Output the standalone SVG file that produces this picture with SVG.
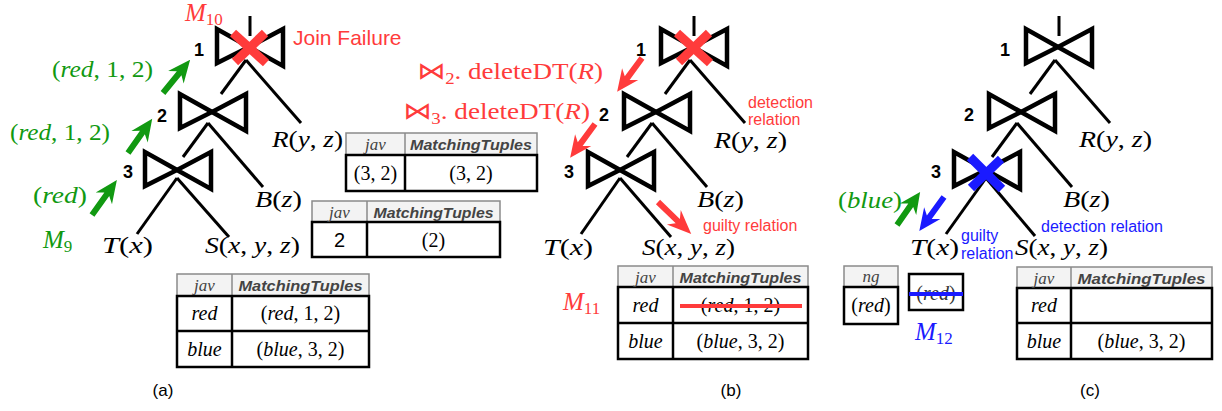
<svg xmlns="http://www.w3.org/2000/svg" xmlns:xlink="http://www.w3.org/1999/xlink" width="1222" height="411" viewBox="0 0 1222 411">
<style>
.ln{stroke:#000;stroke-width:3;fill:none}
.bt{stroke:#000;stroke-width:4.5;fill:none;stroke-linejoin:miter}
.m{font-family:"Liberation Serif","Times New Roman",serif;font-size:23px}
.i{font-style:italic}
.num{font-family:"Liberation Sans",Arial,sans-serif;font-weight:bold;font-size:18px;text-anchor:middle}
.ann{font-family:"Liberation Sans",Arial,sans-serif;font-size:16px}
.big{font-size:21px}
.th{fill:#f3f3f3;stroke:#8a8a8a;stroke-width:1.5}
.tb{fill:#fff;stroke:#000;stroke-width:2.5}
.dv{stroke:#000;stroke-width:2.5}
.dh{stroke:#8a8a8a;stroke-width:1.5}
.hj{font-family:"Liberation Serif",serif;font-style:italic;font-size:17px;fill:#444;text-anchor:middle}
.hm{font-family:"Liberation Sans",Arial,sans-serif;font-style:italic;font-weight:bold;font-size:15px;fill:#444;text-anchor:middle}
.td{font-family:"Liberation Serif",serif;font-size:20px;text-anchor:middle}
.tds{font-family:"Liberation Sans",Arial,sans-serif;font-size:20px;text-anchor:middle}
.red{fill:#ff3b3b}
.grn{fill:#119911}
.blu{fill:#1a1aff}
.xr{stroke:#ff3b3b;stroke-width:9}
.xb{stroke:#1a1aff;stroke-width:9}
.cap{font-family:"Liberation Sans",Arial,sans-serif;font-size:17px;text-anchor:middle}
.bt2{font-family:"DejaVu Sans",sans-serif;font-size:24px}
</style>
<defs>
<g id="bow" class="bt"><polygon points="-32,-18 -32,16 0,0"/><polygon points="34,-18 34,19 0,0"/></g>
<path id="arr" d="M0,-3 L25,-3 L20,-10 L42,0 L20,10 L25,3 L0,3 Z"/>
</defs>

<!-- connectors -->
<g id="connectors" class="ln">
<line x1="250" y1="16" x2="250" y2="36"/>
<line x1="246" y1="60" x2="221" y2="94"/>
<line x1="246" y1="60" x2="301" y2="123"/>
<line x1="208" y1="123" x2="183" y2="157"/>
<line x1="208" y1="123" x2="263" y2="187"/>
<line x1="177" y1="178" x2="137" y2="234"/>
<line x1="177" y1="178" x2="229" y2="237"/>

<line x1="694" y1="16" x2="694" y2="36"/>
<line x1="690" y1="60" x2="665" y2="94"/>
<line x1="690" y1="60" x2="745" y2="123"/>
<line x1="652" y1="123" x2="627" y2="157"/>
<line x1="652" y1="123" x2="707" y2="187"/>
<line x1="620" y1="178" x2="581" y2="234"/>
<line x1="620" y1="178" x2="671" y2="237"/>

<line x1="1059" y1="16" x2="1059" y2="36"/>
<line x1="1055" y1="60" x2="1030" y2="94"/>
<line x1="1055" y1="60" x2="1110" y2="123"/>
<line x1="1017" y1="123" x2="992" y2="157"/>
<line x1="1017" y1="123" x2="1072" y2="187"/>
<line x1="986" y1="178" x2="946" y2="234"/>
<line x1="986" y1="178" x2="1035" y2="236"/>
</g>

<!-- panel (a) join nodes -->
<g id="a-j1"><use xlink:href="#bow" x="249" y="47"/><text class="num" x="199" y="56">1</text></g>
<g id="a-j2"><use xlink:href="#bow" x="212" y="112"/><text class="num" x="162" y="122">2</text></g>
<g id="a-j3"><use xlink:href="#bow" x="177" y="170"/><text class="num" x="128" y="178">3</text></g>
<g id="a-fail">
<line class="xr" x1="233" y1="33" x2="266" y2="63"/><line class="xr" x1="265" y1="33" x2="235" y2="62"/>
<text class="ann big red" x="293" y="45">Join Failure</text>
<text class="m red" x="185" y="21"><tspan class="i" font-size="25">M</tspan><tspan font-size="17" dy="4">10</tspan></text>
</g>
<g id="a-R"><text class="m" x="272" y="147" textLength="71" lengthAdjust="spacingAndGlyphs"><tspan class="i">R</tspan>(<tspan class="i">y</tspan>, <tspan class="i">z</tspan>)</text></g>
<g id="a-B"><text class="m" x="255" y="207" textLength="47" lengthAdjust="spacingAndGlyphs"><tspan class="i">B</tspan>(<tspan class="i">z</tspan>)</text></g>
<g id="a-T"><text class="m" x="102" y="253" textLength="51" lengthAdjust="spacingAndGlyphs"><tspan class="i">T</tspan>(<tspan class="i">x</tspan>)</text></g>
<g id="a-S"><text class="m" x="205" y="253" textLength="95" lengthAdjust="spacingAndGlyphs"><tspan class="i">S</tspan>(<tspan class="i">x</tspan>, <tspan class="i">y</tspan>, <tspan class="i">z</tspan>)</text></g>
<g id="a-msgs" class="grn">
<use xlink:href="#arr" transform="translate(163,93) rotate(-50.7) scale(1.02,1)"/>
<use xlink:href="#arr" transform="translate(128,153) rotate(-54.8)"/>
<use xlink:href="#arr" transform="translate(92,215) rotate(-54.5) scale(1.02,1)"/>
<text class="m grn" x="52" y="77" textLength="101" lengthAdjust="spacingAndGlyphs">(<tspan class="i">red</tspan>, 1, 2)</text>
<text class="m grn" x="10" y="140" textLength="100" lengthAdjust="spacingAndGlyphs">(<tspan class="i">red</tspan>, 1, 2)</text>
<text class="m grn" x="33" y="203" textLength="54" lengthAdjust="spacingAndGlyphs">(<tspan class="i">red</tspan>)</text>
<text class="m grn" x="43" y="248"><tspan class="i" font-size="25">M</tspan><tspan font-size="17" dy="4">9</tspan></text>
</g>

<!-- panel (a) tables -->
<g id="a-tab1">
<rect class="th" x="346" y="133" width="191" height="22"/><line class="dh" x1="405" y1="133" x2="405" y2="155"/>
<rect class="tb" x="346" y="155" width="191" height="36"/><line class="dv" x1="405" y1="155" x2="405" y2="191"/>
<text class="hj" x="375.5" y="150">jav</text><text class="hm" x="471" y="150" textLength="122" lengthAdjust="spacingAndGlyphs">MatchingTuples</text>
<text class="td" x="375.5" y="180">(3, 2)</text><text class="td" x="471" y="180">(3, 2)</text>
</g>
<g id="a-tab2">
<rect class="th" x="312" y="201" width="188" height="21"/><line class="dh" x1="367" y1="201" x2="367" y2="222"/>
<rect class="tb" x="312" y="222" width="188" height="35"/><line class="dv" x1="367" y1="222" x2="367" y2="257"/>
<text class="hj" x="339.5" y="218">jav</text><text class="hm" x="433.5" y="218" textLength="120" lengthAdjust="spacingAndGlyphs">MatchingTuples</text>
<text class="tds" x="339.5" y="247">2</text><text class="td" x="433.5" y="247">(2)</text>
</g>
<g id="a-tab3">
<rect class="th" x="177" y="274" width="192" height="22"/><line class="dh" x1="232" y1="274" x2="232" y2="296"/>
<rect class="tb" x="177" y="296" width="192" height="71"/><line class="dv" x1="232" y1="296" x2="232" y2="367"/><line class="dv" x1="177" y1="331" x2="369" y2="331"/>
<text class="hj" x="204.5" y="291">jav</text><text class="hm" x="300.5" y="291" textLength="124" lengthAdjust="spacingAndGlyphs">MatchingTuples</text>
<text class="td i" x="204.5" y="320">red</text><text class="td" x="300.5" y="320">(<tspan class="i">red</tspan>, 1, 2)</text>
<text class="td i" x="204.5" y="356">blue</text><text class="td" x="300.5" y="356">(<tspan class="i">blue</tspan>, 3, 2)</text>
</g>
<text class="cap" x="163" y="396">(a)</text>

<!-- panel (b) -->
<g id="b-j1"><use xlink:href="#bow" x="693" y="47"/><text class="num" x="641" y="56">1</text></g>
<g id="b-j2"><use xlink:href="#bow" x="656" y="112"/><text class="num" x="604" y="121">2</text></g>
<g id="b-j3"><use xlink:href="#bow" x="620" y="170"/><text class="num" x="569" y="178">3</text></g>
<g id="b-fail"><line class="xr" x1="677" y1="33" x2="710" y2="63"/><line class="xr" x1="709" y1="33" x2="679" y2="62"/></g>
<g id="b-R"><text class="m" x="714" y="148" textLength="73" lengthAdjust="spacingAndGlyphs"><tspan class="i">R</tspan>(<tspan class="i">y</tspan>, <tspan class="i">z</tspan>)</text></g>
<g id="b-B"><text class="m" x="697" y="207" textLength="47" lengthAdjust="spacingAndGlyphs"><tspan class="i">B</tspan>(<tspan class="i">z</tspan>)</text></g>
<g id="b-T"><text class="m" x="543" y="255" textLength="50" lengthAdjust="spacingAndGlyphs"><tspan class="i">T</tspan>(<tspan class="i">x</tspan>)</text></g>
<g id="b-S"><text class="m" x="642" y="255" textLength="93" lengthAdjust="spacingAndGlyphs"><tspan class="i">S</tspan>(<tspan class="i">x</tspan>, <tspan class="i">y</tspan>, <tspan class="i">z</tspan>)</text></g>
<g id="b-msgs" class="red">
<use xlink:href="#arr" transform="translate(642,58) rotate(126.3)"/>
<use xlink:href="#arr" transform="translate(595,124) rotate(126.3)"/>
<use xlink:href="#arr" transform="translate(658,202) rotate(44) scale(1.1,1)"/>
<text class="m red" x="417" y="79" textLength="186" lengthAdjust="spacingAndGlyphs"><tspan class="bt2">⋈</tspan><tspan font-size="16" dy="5">2</tspan><tspan dy="-5">. deleteDT(</tspan><tspan class="i">R</tspan>)</text>
<text class="m red" x="403" y="119" textLength="187" lengthAdjust="spacingAndGlyphs"><tspan class="bt2">⋈</tspan><tspan font-size="16" dy="5">3</tspan><tspan dy="-5">. deleteDT(</tspan><tspan class="i">R</tspan>)</text>
<text class="ann red" x="748" y="108">detection</text>
<text class="ann red" x="748" y="125">relation</text>
<text class="ann red" x="703" y="231">guilty relation</text>
<text class="m red" x="563" y="310"><tspan class="i" font-size="25">M</tspan><tspan font-size="17" dy="4">11</tspan></text>
</g>
<g id="b-tab">
<rect class="th" x="618" y="266" width="190" height="21"/><line class="dh" x1="673" y1="266" x2="673" y2="287"/>
<rect class="tb" x="618" y="287" width="190" height="72"/><line class="dv" x1="673" y1="287" x2="673" y2="359"/><line class="dv" x1="618" y1="323" x2="808" y2="323"/>
<text class="hj" x="645.5" y="283">jav</text><text class="hm" x="740.5" y="283" textLength="122" lengthAdjust="spacingAndGlyphs">MatchingTuples</text>
<text class="td i" x="645.5" y="312">red</text><text class="td" x="740.5" y="312">(<tspan class="i">red</tspan>, 1, 2)</text>
<text class="td i" x="645.5" y="348">blue</text><text class="td" x="740.5" y="348">(<tspan class="i">blue</tspan>, 3, 2)</text>
<line stroke="#ff3b3b" stroke-width="4" x1="680" y1="306" x2="802" y2="306"/>
</g>
<text class="cap" x="731" y="396">(b)</text>

<!-- panel (c) -->
<g id="c-j1"><use xlink:href="#bow" x="1058" y="47"/><text class="num" x="1005" y="56">1</text></g>
<g id="c-j2"><use xlink:href="#bow" x="1021" y="112"/><text class="num" x="969" y="121">2</text></g>
<g id="c-j3"><use xlink:href="#bow" x="986" y="170"/><text class="num" x="936" y="178">3</text></g>
<g id="c-fail"><line class="xb" x1="970" y1="157" x2="1002" y2="189"/><line class="xb" x1="1001" y1="159" x2="971" y2="188"/></g>
<g id="c-R"><text class="m" x="1079" y="147" textLength="73" lengthAdjust="spacingAndGlyphs"><tspan class="i">R</tspan>(<tspan class="i">y</tspan>, <tspan class="i">z</tspan>)</text></g>
<g id="c-B"><text class="m" x="1063" y="207" textLength="47" lengthAdjust="spacingAndGlyphs"><tspan class="i">B</tspan>(<tspan class="i">z</tspan>)</text></g>
<g id="c-T"><text class="m" x="910" y="255" textLength="49" lengthAdjust="spacingAndGlyphs"><tspan class="i">T</tspan>(<tspan class="i">x</tspan>)</text></g>
<g id="c-S"><text class="m" x="1015" y="255" textLength="93" lengthAdjust="spacingAndGlyphs"><tspan class="i">S</tspan>(<tspan class="i">x</tspan>, <tspan class="i">y</tspan>, <tspan class="i">z</tspan>)</text></g>
<g id="c-msgs">
<use class="grn" xlink:href="#arr" transform="translate(897,225) rotate(-55) scale(0.96,1)"/>
<use class="blu" xlink:href="#arr" transform="translate(944,197) rotate(126)"/>
<text class="m grn" x="838" y="208" textLength="64" lengthAdjust="spacingAndGlyphs">(<tspan class="i">blue</tspan>)</text>
<text class="ann blu" x="961" y="241">guilty</text>
<text class="ann blu" x="961" y="259">relation</text>
<text class="ann blu" x="1041" y="232">detection relation</text>
<text class="m blu" x="915" y="340"><tspan class="i" font-size="25">M</tspan><tspan font-size="17" dy="4">12</tspan></text>
</g>
<g id="c-ng">
<rect class="th" x="844" y="266" width="54" height="21"/>
<rect class="tb" x="844" y="287" width="54" height="37"/>
<text class="hj" x="871" y="282">ng</text>
<text class="td" x="871" y="312">(<tspan class="i">red</tspan>)</text>
</g>
<g id="c-box">
<rect class="tb" x="909" y="274" width="54" height="36" stroke-width="2"/>
<text class="td" x="936" y="300" fill="#333">(<tspan class="i">red</tspan>)</text>
<line stroke="#1a1aff" stroke-width="4" x1="909" y1="294" x2="963" y2="294"/>
</g>
<g id="c-tab">
<rect class="th" x="1017" y="267" width="195" height="21"/><line class="dh" x1="1071" y1="267" x2="1071" y2="288"/>
<rect class="tb" x="1017" y="288" width="195" height="71"/><line class="dv" x1="1071" y1="288" x2="1071" y2="359"/><line class="dv" x1="1017" y1="323" x2="1212" y2="323"/>
<text class="hj" x="1044" y="284">jav</text><text class="hm" x="1141.5" y="284" textLength="128" lengthAdjust="spacingAndGlyphs">MatchingTuples</text>
<text class="td i" x="1044" y="312">red</text>
<text class="td i" x="1044" y="348">blue</text><text class="td" x="1141.5" y="348">(<tspan class="i">blue</tspan>, 3, 2)</text>
</g>
<text class="cap" x="1090" y="396">(c)</text>
</svg>
